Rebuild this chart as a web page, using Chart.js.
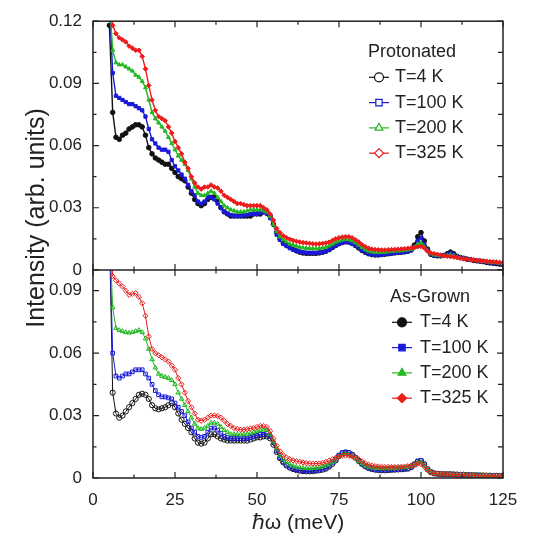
<!DOCTYPE html>
<html lang="en">
<head>
<meta charset="UTF-8">
<title>Intensity vs energy transfer</title>
<script src="https://cdn.jsdelivr.net/npm/chart.js"></script>
<style>
  html, body { margin: 0; padding: 0; background: #fff; }
  #chart { display: block; }
</style>
</head>
<body>
<canvas id="chart" width="533" height="541"></canvas>
<script>
// energy transfer (meV), one point per meV
var energy = [
  5, 6, 7, 8, 9, 10, 11, 12, 13, 14,
  15, 16, 17, 18, 19, 20, 21, 22, 23, 24,
  25, 26, 27, 28, 29, 30, 31, 32, 33, 34,
  35, 36, 37, 38, 39, 40, 41, 42, 43, 44,
  45, 46, 47, 48, 49, 50, 51, 52, 53, 54,
  55, 56, 57, 58, 59, 60, 61, 62, 63, 64,
  65, 66, 67, 68, 69, 70, 71, 72, 73, 74,
  75, 76, 77, 78, 79, 80, 81, 82, 83, 84,
  85, 86, 87, 88, 89, 90, 91, 92, 93, 94,
  95, 96, 97, 98, 99, 100, 101, 102, 103, 104,
  105, 106, 107, 108, 109, 110, 111, 112, 113, 114,
  115, 116, 117, 118, 119, 120, 121, 122, 123, 124,
  125
];

// Protonated sample
var prot4 = [
  0.118, 0.076, 0.064, 0.063, 0.065, 0.066, 0.068, 0.069, 0.070, 0.070,
  0.069, 0.065, 0.059, 0.056, 0.054, 0.053, 0.052, 0.051, 0.051, 0.049,
  0.047, 0.045, 0.044, 0.043, 0.040, 0.037, 0.034, 0.032, 0.031, 0.032,
  0.034, 0.035, 0.035, 0.033, 0.030, 0.028, 0.027, 0.026, 0.026, 0.026,
  0.026, 0.026, 0.026, 0.026, 0.027, 0.027, 0.027, 0.028, 0.028, 0.026,
  0.022, 0.018, 0.015, 0.013, 0.012, 0.011, 0.010, 0.0092, 0.0086, 0.0082,
  0.008, 0.008, 0.008, 0.008, 0.0082, 0.0085, 0.009, 0.0098, 0.0108, 0.0118,
  0.0126, 0.0132, 0.0136, 0.0135, 0.0128, 0.0118, 0.0106, 0.0094, 0.0085, 0.0078,
  0.0074, 0.0072, 0.0072, 0.0074, 0.0076, 0.0078, 0.008, 0.0082, 0.0084, 0.0085,
  0.0087, 0.009, 0.0096, 0.012, 0.016, 0.018, 0.014, 0.010, 0.0075, 0.007,
  0.0068, 0.0068, 0.007, 0.0078, 0.0086, 0.0078, 0.0065, 0.006, 0.0056, 0.0052,
  0.005, 0.0046, 0.0044, 0.0042, 0.004, 0.0036, 0.0034, 0.0032, 0.003, 0.0028,
  0.0026
];
var prot100 = [
  0.13, 0.095, 0.084, 0.083, 0.082, 0.081, 0.080, 0.080, 0.079, 0.078,
  0.077, 0.074, 0.068, 0.063, 0.061, 0.059, 0.058, 0.058, 0.057, 0.053,
  0.050, 0.048, 0.046, 0.044, 0.041, 0.038, 0.036, 0.033, 0.032, 0.033,
  0.035, 0.035, 0.034, 0.032, 0.030, 0.028, 0.027, 0.0265, 0.026, 0.026,
  0.026, 0.0265, 0.0265, 0.027, 0.027, 0.027, 0.0275, 0.028, 0.027, 0.025,
  0.022, 0.017, 0.0145, 0.0125, 0.0115, 0.0105, 0.0098, 0.0092, 0.0088, 0.0085,
  0.0083, 0.0082, 0.0082, 0.0082, 0.0083, 0.0086, 0.009, 0.0098, 0.0108, 0.0118,
  0.0126, 0.0132, 0.0134, 0.0133, 0.0127, 0.0118, 0.0108, 0.0096, 0.0086, 0.0079,
  0.0075, 0.0073, 0.0073, 0.0074, 0.0076, 0.0078, 0.008, 0.0082, 0.0084, 0.0085,
  0.0087, 0.009, 0.0095, 0.011, 0.014, 0.0155, 0.0125, 0.0095, 0.0076, 0.007,
  0.0068, 0.0067, 0.0068, 0.0074, 0.008, 0.0074, 0.0064, 0.0059, 0.0055, 0.0052,
  0.0049, 0.0047, 0.0045, 0.0043, 0.0041, 0.0038, 0.0036, 0.0034, 0.0032, 0.003,
  0.0029
];
var prot200 = [
  0.13, 0.106, 0.100, 0.099, 0.099, 0.098, 0.097, 0.096, 0.094, 0.093,
  0.091, 0.088, 0.082, 0.076, 0.073, 0.071, 0.069, 0.067, 0.064, 0.061,
  0.058, 0.055, 0.053, 0.051, 0.048, 0.044, 0.040, 0.037, 0.036, 0.036,
  0.037, 0.038, 0.037, 0.035, 0.033, 0.031, 0.030, 0.029, 0.0285, 0.028,
  0.028, 0.028, 0.0285, 0.029, 0.029, 0.029, 0.029, 0.0285, 0.028, 0.026,
  0.022, 0.0185, 0.016, 0.0145, 0.0135, 0.0125, 0.012, 0.0115, 0.011, 0.0107,
  0.0105, 0.0104, 0.0103, 0.0103, 0.0104, 0.0107, 0.011, 0.0116, 0.0125, 0.0134,
  0.014, 0.0145, 0.0147, 0.0146, 0.014, 0.0131, 0.012, 0.0108, 0.0098, 0.0091,
  0.0087, 0.0085, 0.0085, 0.0085, 0.0086, 0.0088, 0.009, 0.0091, 0.0092, 0.0093,
  0.0095, 0.0097, 0.010, 0.011, 0.0125, 0.013, 0.0112, 0.0092, 0.0078, 0.0073,
  0.0071, 0.0069, 0.0068, 0.007, 0.0072, 0.0068, 0.0062, 0.0058, 0.0055, 0.0052,
  0.005, 0.0048, 0.0046, 0.0044, 0.0042, 0.004, 0.0038, 0.0036, 0.0035, 0.0033,
  0.0032
];
var prot325 = [
  0.13, 0.118, 0.114, 0.112, 0.111, 0.110, 0.108, 0.107, 0.106, 0.106,
  0.103, 0.097, 0.089, 0.082, 0.077, 0.074, 0.073, 0.072, 0.069, 0.066,
  0.062, 0.059, 0.056, 0.052, 0.049, 0.045, 0.042, 0.040, 0.039, 0.040,
  0.040, 0.041, 0.040, 0.0395, 0.038, 0.036, 0.035, 0.034, 0.033, 0.032,
  0.032, 0.0315, 0.031, 0.031, 0.031, 0.031, 0.031, 0.030, 0.029, 0.027,
  0.024, 0.020, 0.018, 0.0165, 0.0155, 0.0148, 0.0142, 0.0138, 0.0135, 0.0132,
  0.013, 0.0128, 0.0126, 0.0125, 0.0126, 0.0128, 0.013, 0.0134, 0.0142, 0.015,
  0.0155, 0.0158, 0.016, 0.016, 0.0155, 0.0145, 0.0135, 0.0122, 0.0112, 0.0105,
  0.010, 0.0098, 0.0097, 0.0096, 0.0096, 0.0097, 0.0098, 0.0099, 0.010, 0.0101,
  0.0102, 0.0104, 0.0106, 0.0108, 0.0112, 0.0114, 0.0105, 0.009, 0.0082, 0.0078,
  0.0075, 0.0072, 0.0068, 0.0066, 0.0064, 0.0062, 0.006, 0.0056, 0.0054, 0.0052,
  0.005, 0.0048, 0.0046, 0.0045, 0.0043, 0.0042, 0.004, 0.0039, 0.0038, 0.0036,
  0.0035
];

// As-grown sample
var grown4 = [
  0.12, 0.041, 0.031, 0.029, 0.030, 0.032, 0.034, 0.036, 0.038, 0.040,
  0.0405, 0.040, 0.038, 0.035, 0.0335, 0.033, 0.0335, 0.034, 0.035, 0.036,
  0.034, 0.031, 0.028, 0.026, 0.024, 0.022, 0.019, 0.017, 0.0165, 0.017,
  0.019, 0.021, 0.021, 0.020, 0.019, 0.0185, 0.018, 0.018, 0.018, 0.018,
  0.018, 0.018, 0.018, 0.0185, 0.019, 0.0195, 0.0195, 0.020, 0.020, 0.019,
  0.016, 0.0125, 0.0095, 0.0075, 0.006, 0.005, 0.0043, 0.0038, 0.0035, 0.0033,
  0.0032, 0.0032, 0.0033, 0.0035, 0.0037, 0.004, 0.0045, 0.0055, 0.0068, 0.0085,
  0.0105, 0.0118, 0.0122, 0.012, 0.0112, 0.0098, 0.0082, 0.0068, 0.0056, 0.0048,
  0.0043, 0.004, 0.0038, 0.0037, 0.0037, 0.0038, 0.0039, 0.004, 0.0041, 0.0042,
  0.0043, 0.0045, 0.0052, 0.0065, 0.0078, 0.0082, 0.0065, 0.0042, 0.0028, 0.0022,
  0.002, 0.0019, 0.0018, 0.0018, 0.0018, 0.0017, 0.0016, 0.0015, 0.0015, 0.0014,
  0.0014, 0.0013, 0.0013, 0.0012, 0.0012, 0.0011, 0.0011, 0.001, 0.001, 0.001,
  0.001
];
var grown100 = [
  0.12, 0.060, 0.049, 0.048, 0.049, 0.050, 0.050, 0.051, 0.052, 0.052,
  0.052, 0.050, 0.048, 0.045, 0.042, 0.040, 0.039, 0.039, 0.0385, 0.038,
  0.036, 0.034, 0.032, 0.030, 0.027, 0.024, 0.022, 0.020, 0.0195, 0.020,
  0.022, 0.024, 0.024, 0.023, 0.0215, 0.020, 0.0195, 0.019, 0.019, 0.019,
  0.019, 0.019, 0.019, 0.0195, 0.020, 0.0205, 0.021, 0.021, 0.0215, 0.020,
  0.017, 0.013, 0.0098, 0.0078, 0.0063, 0.0052, 0.0045, 0.004, 0.0037, 0.0035,
  0.0034, 0.0034, 0.0035, 0.0036, 0.0038, 0.0042, 0.0048, 0.0058, 0.0072, 0.009,
  0.011, 0.0122, 0.0125, 0.0122, 0.0113, 0.0098, 0.0082, 0.0068, 0.0057, 0.0049,
  0.0044, 0.0041, 0.0039, 0.0038, 0.0038, 0.0039, 0.004, 0.0041, 0.0042, 0.0043,
  0.0044, 0.0046, 0.0053, 0.0068, 0.0082, 0.0085, 0.0068, 0.0044, 0.003, 0.0024,
  0.0021, 0.002, 0.0019, 0.0019, 0.0019, 0.0018, 0.0017, 0.0016, 0.0016, 0.0015,
  0.0015, 0.0014, 0.0014, 0.0013, 0.0013, 0.0012, 0.0012, 0.0011, 0.0011, 0.0011,
  0.0011
];
var grown200 = [
  0.12, 0.082, 0.072, 0.071, 0.0705, 0.070, 0.0698, 0.070, 0.0705, 0.071,
  0.070, 0.067, 0.062, 0.057, 0.053, 0.050, 0.049, 0.0485, 0.048, 0.047,
  0.045, 0.041, 0.038, 0.035, 0.032, 0.029, 0.026, 0.024, 0.0235, 0.024,
  0.025, 0.0265, 0.0265, 0.026, 0.0245, 0.023, 0.022, 0.021, 0.021, 0.021,
  0.0208, 0.021, 0.0212, 0.0215, 0.022, 0.0225, 0.023, 0.0232, 0.023, 0.021,
  0.0175, 0.014, 0.011, 0.009, 0.0075, 0.0065, 0.0058, 0.0053, 0.005, 0.0048,
  0.0047, 0.0046, 0.0047, 0.0049, 0.0051, 0.0055, 0.006, 0.0068, 0.0078, 0.0092,
  0.0105, 0.0112, 0.0114, 0.0112, 0.0105, 0.0094, 0.0081, 0.007, 0.0061, 0.0055,
  0.0051, 0.0048, 0.0047, 0.0046, 0.0046, 0.0046, 0.0047, 0.0048, 0.0049, 0.005,
  0.0051, 0.0053, 0.0058, 0.0066, 0.0075, 0.0076, 0.0062, 0.0043, 0.003, 0.0025,
  0.0022, 0.0021, 0.002, 0.002, 0.0019, 0.0019, 0.0018, 0.0017, 0.0017, 0.0016,
  0.0016, 0.0015, 0.0015, 0.0014, 0.0014, 0.0013, 0.0013, 0.0012, 0.0012, 0.0012,
  0.0012
];
var grown325 = [
  0.12, 0.097, 0.095, 0.0935, 0.092, 0.090, 0.088, 0.0885, 0.0888, 0.087,
  0.084, 0.078, 0.068, 0.062, 0.060, 0.059, 0.058, 0.057, 0.056, 0.054,
  0.052, 0.048, 0.045, 0.041, 0.037, 0.034, 0.031, 0.028, 0.0275, 0.028,
  0.029, 0.030, 0.030, 0.0298, 0.029, 0.0275, 0.026, 0.025, 0.024, 0.0235,
  0.0232, 0.0232, 0.0235, 0.0238, 0.024, 0.0245, 0.025, 0.025, 0.0245, 0.0225,
  0.019, 0.0155, 0.0128, 0.011, 0.0098, 0.009, 0.0085, 0.0081, 0.0078, 0.0075,
  0.0072, 0.007, 0.0069, 0.0069, 0.007, 0.0073, 0.0077, 0.0083, 0.009, 0.0097,
  0.0103, 0.0107, 0.0108, 0.0107, 0.0104, 0.0098, 0.009, 0.008, 0.0071, 0.0064,
  0.006, 0.0057, 0.0055, 0.0054, 0.0053, 0.0053, 0.0053, 0.0053, 0.0053, 0.0054,
  0.0055, 0.0057, 0.006, 0.0064, 0.0069, 0.0068, 0.0055, 0.0038, 0.0027, 0.0023,
  0.0021, 0.002, 0.0019, 0.0018, 0.0017, 0.0016, 0.0015, 0.0015, 0.0014, 0.0013,
  0.0013, 0.0012, 0.0012, 0.0011, 0.0011, 0.001, 0.001, 0.0009, 0.0009, 0.0009,
  0.0008
];

var temps = ['T=4 K', 'T=100 K', 'T=200 K', 'T=325 K'];
var xTicks = [0, 25, 50, 75, 100, 125];
var yTicksTop = [0, 0.03, 0.06, 0.09, 0.12];
var yTicksBottom = [0, 0.03, 0.06, 0.09];

var colors = ['#111111', '#1a1ad8', '#22b822', '#ec1c1c'];
var shapes = ['circle', 'rect', 'triangle', 'rectRot'];
var FONT = "'Liberation Sans', Arial, sans-serif";
var INK = '#222';

function points(values) {
  return energy.map(function (e, i) { return { x: e, y: values[i] }; });
}

// each dataset is clipped to its own stacked y scale by the library
var datasets = [];
[prot4, prot100, prot200, prot325].forEach(function (vals, i) {
  datasets.push({
    data: points(vals),
    yAxisID: 'yTop',
    borderColor: colors[i],
    backgroundColor: colors[i],
    borderWidth: 1.4,
    pointStyle: shapes[i],
    pointRadius: 2.3,
    pointBorderWidth: 1,
    order: 4 - i
  });
});
[grown4, grown100, grown200, grown325].forEach(function (vals, i) {
  datasets.push({
    data: points(vals),
    yAxisID: 'yBottom',
    borderColor: colors[i],
    backgroundColor: 'rgba(255,255,255,0)',
    borderWidth: 1,
    pointStyle: shapes[i],
    pointRadius: 2.6,
    pointBorderWidth: 1,
    order: 4 - i
  });
});

function fixedTicks(list) {
  return function (axis) {
    axis.ticks = list.map(function (v) { return { value: v }; });
  };
}

function fmt(v) {
  return v === 0 ? '0' : v.toFixed(2);
}

// frame around both panels with inward ticks on every side
var framePlugin = {
  id: 'frame',
  afterDatasetsDraw: function (chart) {
    var ctx = chart.ctx;
    var a = chart.chartArea;
    var xs = chart.scales.x;
    var panels = [
      { scale: chart.scales.yTop, major: yTicksTop },
      { scale: chart.scales.yBottom, major: yTicksBottom }
    ];
    ctx.save();
    ctx.strokeStyle = INK;
    ctx.lineWidth = 1.5;
    ctx.strokeRect(a.left, a.top, a.right - a.left, a.bottom - a.top);
    ctx.beginPath();
    ctx.moveTo(a.left, chart.scales.yTop.bottom);
    ctx.lineTo(a.right, chart.scales.yTop.bottom);
    ctx.stroke();

    ctx.lineWidth = 1.2;
    ctx.beginPath();
    panels.forEach(function (p) {
      var ys = p.scale;
      var top = ys.top, bottom = ys.bottom;
      // x ticks on top and bottom edge of panel
      for (var i = 0; i < xTicks.length; i++) {
        var px = xs.getPixelForValue(xTicks[i]);
        ctx.moveTo(px, bottom); ctx.lineTo(px, bottom - 6);
        ctx.moveTo(px, top); ctx.lineTo(px, top + 6);
        if (i < xTicks.length - 1) {
          var mx = xs.getPixelForValue((xTicks[i] + xTicks[i + 1]) / 2);
          ctx.moveTo(mx, bottom); ctx.lineTo(mx, bottom - 3.5);
          ctx.moveTo(mx, top); ctx.lineTo(mx, top + 3.5);
        }
      }
      // y ticks on left and right edge
      var step = p.major[1] - p.major[0];
      for (var j = 0; j < p.major.length; j++) {
        var py = ys.getPixelForValue(p.major[j]);
        ctx.moveTo(a.left, py); ctx.lineTo(a.left + 6, py);
        ctx.moveTo(a.right, py); ctx.lineTo(a.right - 6, py);
        var mv = p.major[j] + step / 2;
        if (mv < ys.max) {
          var my = ys.getPixelForValue(mv);
          ctx.moveTo(a.left, my); ctx.lineTo(a.left + 3.5, my);
          ctx.moveTo(a.right, my); ctx.lineTo(a.right - 5, my);
        }
      }
    });
    ctx.stroke();
    ctx.restore();
  }
};

// y title and the two in-plot legends
var textPlugin = {
  id: 'texts',
  afterDraw: function (chart) {
    var ctx = chart.ctx;
    var h = Chart.helpers;
    ctx.save();
    ctx.fillStyle = INK;
    ctx.font = '25px ' + FONT;
    ctx.textAlign = 'center';
    ctx.textBaseline = 'middle';
    ctx.translate(37, 218);
    ctx.rotate(-Math.PI / 2);
    ctx.fillText('Intensity (arb. units)', 0, 0);
    ctx.restore();

    function legend(title, tx, ty, mx, textX, filled) {
      ctx.save();
      ctx.font = '18px ' + FONT;
      ctx.fillStyle = INK;
      ctx.textAlign = 'left';
      ctx.textBaseline = 'middle';
      ctx.fillText(title, tx, ty);
      for (var i = 0; i < temps.length; i++) {
        var y = ty + 25.3 * (i + 1);
        ctx.strokeStyle = colors[i];
        ctx.lineWidth = 1.2;
        ctx.beginPath();
        ctx.moveTo(mx - 10, y); ctx.lineTo(mx + 10, y);
        ctx.stroke();
        ctx.fillStyle = filled ? colors[i] : '#fff';
        h.drawPoint(ctx, { pointStyle: shapes[i], radius: 4.5, borderWidth: 1.2, rotation: 0 }, mx, y);
        ctx.fillStyle = INK;
        ctx.fillText(temps[i], textX, y);
      }
      ctx.restore();
    }
    legend('Protonated', 368, 52, 379, 395, false);
    legend('As-Grown', 390, 297, 402, 420, true);
  }
};

new Chart(document.getElementById('chart'), {
  type: 'line',
  data: { datasets: datasets },
  options: {
    responsive: false,
    animation: false,
    events: [],
    layout: { padding: { left: 0, right: 30, top: 17, bottom: 0 } },
    plugins: { legend: { display: false }, tooltip: { enabled: false } },
    scales: {
      x: {
        type: 'linear',
        min: 0,
        max: 125,
        afterBuildTicks: fixedTicks(xTicks),
        afterFit: function (s) { s.height = 63; },
        grid: { display: false, drawTicks: false },
        border: { display: false },
        ticks: { padding: 12, color: INK, font: { family: FONT, size: 17 } },
        title: {
          display: true,
          text: '\u210Fω (meV)',
          color: INK,
          font: { family: FONT, size: 21 },
          padding: { top: 0, bottom: 5 }
        }
      },
      // stacked left axes: the one listed last is placed on top
      yBottom: {
        type: 'linear',
        position: 'left',
        stack: 'panels',
        stackWeight: 210,
        min: 0,
        max: 0.1,
        afterBuildTicks: fixedTicks(yTicksBottom),
        afterFit: function (s) { s.width = 93; },
        grid: { display: false, drawTicks: false },
        border: { display: false },
        ticks: { padding: 11, color: INK, font: { family: FONT, size: 17 }, callback: fmt }
      },
      yTop: {
        type: 'linear',
        position: 'left',
        stack: 'panels',
        stackWeight: 251,
        min: 0,
        max: 0.12,
        afterBuildTicks: fixedTicks(yTicksTop),
        afterFit: function (s) { s.width = 93; },
        grid: { display: false, drawTicks: false },
        border: { display: false },
        ticks: { padding: 11, color: INK, font: { family: FONT, size: 17 }, callback: fmt }
      }
    }
  },
  plugins: [framePlugin, textPlugin]
});
</script>
</body>
</html>
